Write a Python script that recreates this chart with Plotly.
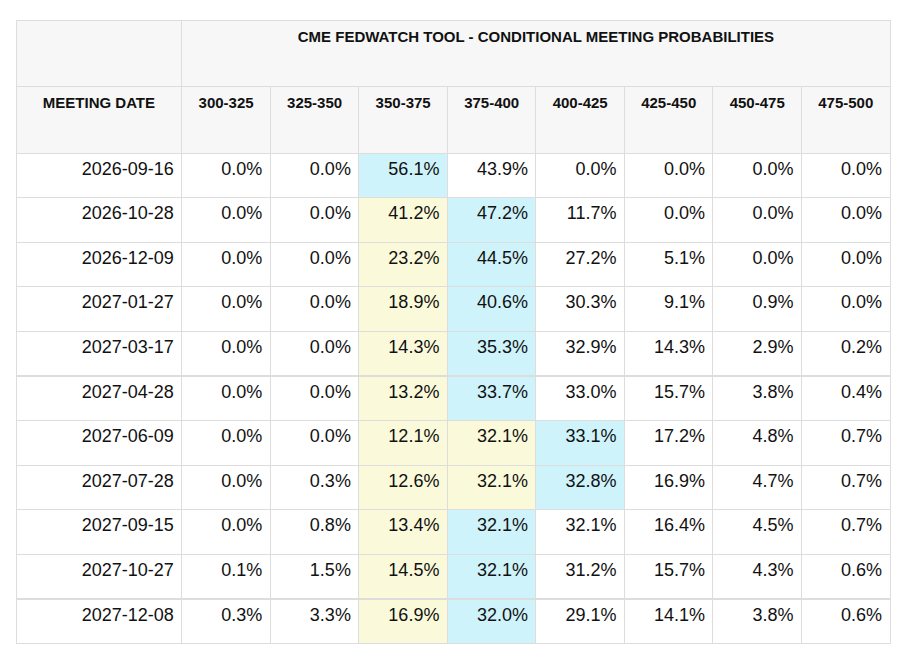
import plotly.graph_objects as go

title = "CME FEDWATCH TOOL - CONDITIONAL MEETING PROBABILITIES"
ranges = ["300-325", "325-350", "350-375", "375-400", "400-425",
          "425-450", "450-475", "475-500"]
dates = ["2026-09-16", "2026-10-28", "2026-12-09", "2027-01-27", "2027-03-17",
         "2027-04-28", "2027-06-09", "2027-07-28", "2027-09-15", "2027-10-27",
         "2027-12-08"]
probs = [
    [0.0, 0.0, 56.1, 43.9, 0.0, 0.0, 0.0, 0.0],
    [0.0, 0.0, 41.2, 47.2, 11.7, 0.0, 0.0, 0.0],
    [0.0, 0.0, 23.2, 44.5, 27.2, 5.1, 0.0, 0.0],
    [0.0, 0.0, 18.9, 40.6, 30.3, 9.1, 0.9, 0.0],
    [0.0, 0.0, 14.3, 35.3, 32.9, 14.3, 2.9, 0.2],
    [0.0, 0.0, 13.2, 33.7, 33.0, 15.7, 3.8, 0.4],
    [0.0, 0.0, 12.1, 32.1, 33.1, 17.2, 4.8, 0.7],
    [0.0, 0.3, 12.6, 32.1, 32.8, 16.9, 4.7, 0.7],
    [0.0, 0.8, 13.4, 32.1, 32.1, 16.4, 4.5, 0.7],
    [0.1, 1.5, 14.5, 32.1, 31.2, 15.7, 4.3, 0.6],
    [0.3, 3.3, 16.9, 32.0, 29.1, 14.1, 3.8, 0.6],
]
current = 2  # index of current target range (350-375)

BLUE = "#cef3fb"
YELLOW = "#fafadb"
WHITE = "#ffffff"
HEAD = "#f7f7f7"
LINE = "#dddddd"

# colour each cell: blue for the row max, yellow between current and max
fill = [[WHITE] * len(dates)]
for j in range(len(ranges)):
    col = []
    for row in probs:
        m = row.index(max(row))
        if j == m:
            col.append(BLUE)
        elif current <= j < m:
            col.append(YELLOW)
        else:
            col.append(WHITE)
    fill.append(col)

W, H = 904, 648
x0, x1 = 8 / W, 882 / W
widths = [166] + [88.6] * len(ranges)
FONT = "Liberation Sans, Arial"

top = go.Table(
    domain=dict(x=[x0, x1], y=[1 - 80 / H, 1 - 12 / H]),
    columnwidth=[166, 88.6 * len(ranges)],
    header=dict(
        values=["", "<b>" + title + "</b>"],
        fill_color=HEAD, line_color=LINE, height=66,
        align="center", font=dict(family=FONT, size=15, color="#111"),
    ),
)

main = go.Table(
    domain=dict(x=[x0, x1], y=[0, 1 - 78 / H]),
    columnwidth=widths,
    header=dict(
        values=["<b>MEETING DATE</b>"] + ["<b>" + r + "</b>" for r in ranges],
        fill_color=HEAD, line_color=LINE, height=67,
        align="center", font=dict(family=FONT, size=15, color="#111"),
    ),
    cells=dict(
        values=[dates] + [[f"{row[j]:.1f}%" for row in probs] for j in range(len(ranges))],
        fill_color=fill, line_color=LINE, height=44.6,
        align="right", font=dict(family=FONT, size=18, color="#111"),
    ),
)

fig = go.Figure(data=[top, main])
fig.update_layout(width=W, height=H, margin=dict(l=0, r=0, t=0, b=0),
                  paper_bgcolor="white")
fig.write_html("out.html")
